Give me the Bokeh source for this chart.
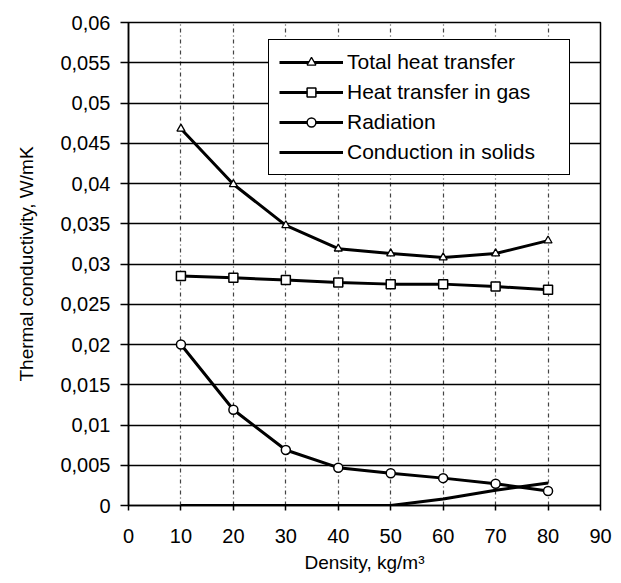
from bokeh.plotting import figure
from bokeh.models import FixedTicker, Range1d, Legend
from bokeh.embed import file_html
from bokeh.resources import INLINE

density = [10, 20, 30, 40, 50, 60, 70, 80]
total = [0.0468, 0.0399, 0.0348, 0.0319, 0.0313, 0.0308, 0.0313, 0.0329]
gas = [0.0285, 0.0283, 0.0280, 0.0277, 0.0275, 0.0275, 0.0272, 0.0268]
radiation = [0.0200, 0.0119, 0.0069, 0.0047, 0.0040, 0.0034, 0.0027, 0.0018]
conduction = [0.0, 0.0, 0.0, 0.0, 0.0, 0.0008, 0.0019, 0.0028]

x_ticks = [0, 10, 20, 30, 40, 50, 60, 70, 80, 90]
y_ticks = [0, 0.005, 0.01, 0.015, 0.02, 0.025, 0.03, 0.035, 0.04, 0.045, 0.05, 0.055, 0.06]
y_tick_labels = ["0", "0,005", "0,01", "0,015", "0,02", "0,025", "0,03", "0,035",
                 "0,04", "0,045", "0,05", "0,055", "0,06"]

FONT = "Liberation Sans"

p = figure(width=613, height=575, output_backend="svg", toolbar_location=None,
           x_range=Range1d(0, 90), y_range=Range1d(0, 0.06),
           min_border_left=128, min_border_right=13, min_border_top=22, min_border_bottom=70)

p.outline_line_color = "black"
p.outline_line_width = 1.5
p.background_fill_color = "white"
p.border_fill_color = "white"

p.xaxis.ticker = FixedTicker(ticks=x_ticks)
p.yaxis.ticker = FixedTicker(ticks=y_ticks)
p.yaxis.major_label_overrides = {t: l for t, l in zip(y_ticks, y_tick_labels)}
p.xaxis.major_label_overrides = {t: str(t) for t in x_ticks}
for ax in (p.xaxis, p.yaxis):
    ax.axis_line_color = "black"
    ax.axis_line_width = 1.5
    ax.major_tick_line_color = "black"
    ax.major_tick_line_width = 1.5
    ax.major_tick_in = 0
    ax.minor_tick_line_color = None
    ax.major_label_text_font = FONT
    ax.major_label_text_font_size = "20px"
    ax.major_label_text_color = "black"
    ax.axis_label_text_font = FONT
    ax.axis_label_text_font_size = "19px"
    ax.axis_label_text_font_style = "normal"
    ax.axis_label_text_color = "black"
p.yaxis.major_tick_out = 8
p.yaxis.major_label_standoff = 10
p.xaxis.major_tick_out = 5
p.xaxis.major_label_standoff = 18
p.yaxis.axis_label = "Thermal conductivity, W/mK"
p.xaxis.axis_label = "Density, kg/m\u00b3"
p.yaxis.axis_label_standoff = 20
p.xaxis.axis_label_standoff = 6

p.ygrid.grid_line_color = "black"
p.ygrid.grid_line_width = 1.5
p.xgrid.grid_line_color = "#222222"
p.xgrid.grid_line_width = 1.2
p.xgrid.grid_line_dash = "4 3 1 3"
p.xgrid.grid_line_alpha = 0.85

LW = 3
r1 = p.line(density, total, line_color="black", line_width=LW)
s1 = p.scatter(density, total, marker="triangle", size=8, fill_color="white",
               line_color="black", line_width=1.3)
r2 = p.line(density, gas, line_color="black", line_width=LW)
s2 = p.scatter(density, gas, marker="square", size=9, fill_color="white",
               line_color="black", line_width=1.5)
r3 = p.line(density, radiation, line_color="black", line_width=LW)
s3 = p.scatter(density, radiation, marker="circle", size=9, fill_color="white",
               line_color="black", line_width=1.5)
r4 = p.line(density, conduction, line_color="black", line_width=LW)

legend = Legend(items=[
    ("Total heat transfer", [r1, s1]),
    ("Heat transfer in gas", [r2, s2]),
    ("Radiation", [r3, s3]),
    ("Conduction in solids", [r4]),
], location=(140, 330))
legend.label_text_font = FONT
legend.label_text_font_size = "21px"
legend.label_text_color = "black"
legend.border_line_color = "black"
legend.border_line_alpha = 1.0
legend.border_line_width = 1.5
legend.background_fill_color = "white"
legend.background_fill_alpha = 1.0
legend.glyph_width = 64
legend.glyph_height = 22
legend.label_height = 22
legend.label_width = 212
legend.spacing = 6
legend.padding = 10
legend.margin = 0
legend.label_standoff = 4
p.add_layout(legend, "center")

open("out.html", "w").write(file_html(p, INLINE))
